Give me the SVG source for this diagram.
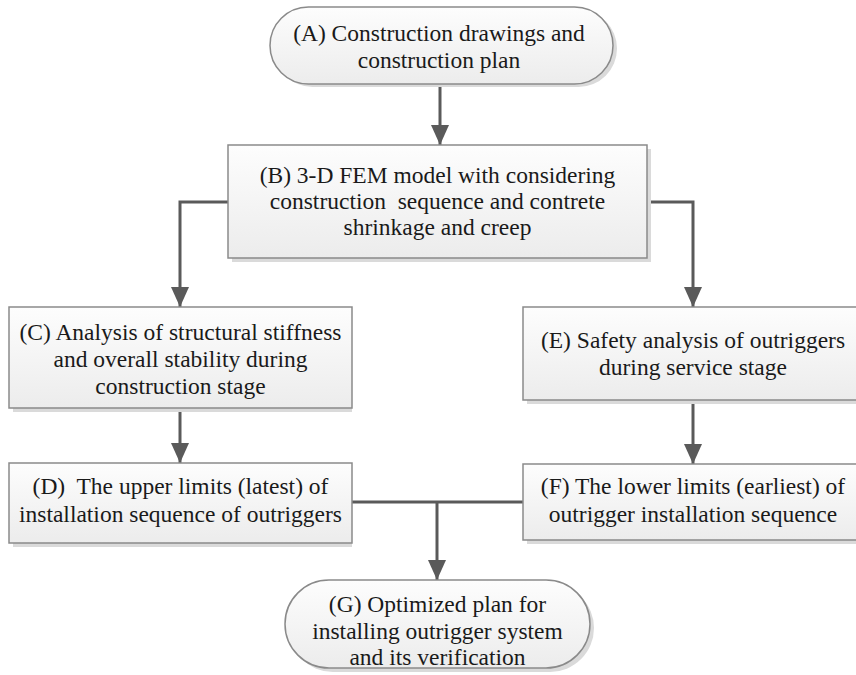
<svg xmlns="http://www.w3.org/2000/svg" width="856" height="675" viewBox="0 0 856 675">
<style>
.box{fill:url(#g);stroke:#8a8a8a;stroke-width:1.5}
.sh{fill:#dadada}
.t{font-family:"Liberation Serif","Times New Roman",serif;font-size:23.5px;fill:#1a1a1a;text-anchor:middle}
.c{fill:none;stroke:#5a5a5a;stroke-width:3}
</style>
<defs>
<linearGradient id="g" x1="0" y1="0" x2="0" y2="1">
<stop offset="0" stop-color="#fdfdfd"/>
<stop offset="1" stop-color="#ececec"/>
</linearGradient>
<marker id="ar" viewBox="0 0 20 18" refX="20" refY="9" markerWidth="20" markerHeight="18" markerUnits="userSpaceOnUse" orient="auto">
<path d="M0,0 L20,9 L0,18 Z" fill="#5a5a5a"/>
</marker>
</defs>
<rect width="856" height="675" fill="#ffffff"/>
<g id="connectors">
<path class="c" d="M440,84 V145" marker-end="url(#ar)"/>
<path class="c" d="M228,202 H180 V307" marker-end="url(#ar)"/>
<path class="c" d="M647,202 H693 V307" marker-end="url(#ar)"/>
<path class="c" d="M180,408 V463" marker-end="url(#ar)"/>
<path class="c" d="M693,400 V464" marker-end="url(#ar)"/>
<path class="c" d="M352,502 H523"/>
<path class="c" d="M437,502 V580" marker-end="url(#ar)"/>
</g>
<g id="A">
<rect class="sh" x="274" y="10" width="343" height="77" rx="38.5"/>
<rect class="box" x="270" y="7" width="343" height="77" rx="38.5"/>
<text class="t" x="439" y="41">(A) Construction drawings and</text>
<text class="t" x="439" y="68">construction plan</text>
</g>
<g id="B">
<rect class="sh" x="232" y="149" width="419" height="113"/>
<rect class="box" x="228" y="145" width="419" height="113"/>
<text class="t" x="437.5" y="183">(B) 3-D FEM model with considering</text>
<text class="t" x="437.5" y="209" xml:space="preserve">construction  sequence and contrete</text>
<text class="t" x="437.5" y="235">shrinkage and creep</text>
</g>
<g id="C">
<rect class="sh" x="13" y="311" width="339" height="101"/>
<rect class="box" x="9" y="307" width="343" height="101"/>
<text class="t" x="180.5" y="340">(C) Analysis of structural stiffness</text>
<text class="t" x="180.5" y="367">and overall stability during</text>
<text class="t" x="180.5" y="394">construction stage</text>
</g>
<g id="E">
<rect class="sh" x="527" y="311" width="340" height="93"/>
<rect class="box" x="523" y="307" width="340" height="93"/>
<text class="t" x="693" y="348">(E) Safety analysis of outriggers</text>
<text class="t" x="693" y="375">during service stage</text>
</g>
<g id="D">
<rect class="sh" x="13" y="467" width="339" height="80"/>
<rect class="box" x="9" y="463" width="343" height="80"/>
<text class="t" x="180.5" y="494" xml:space="preserve">(D)  The upper limits (latest) of</text>
<text class="t" x="180.5" y="522">installation sequence of outriggers</text>
</g>
<g id="F">
<rect class="sh" x="527" y="468" width="340" height="76"/>
<rect class="box" x="523" y="464" width="340" height="76"/>
<text class="t" x="693" y="494">(F) The lower limits (earliest) of</text>
<text class="t" x="693" y="522">outrigger installation sequence</text>
</g>
<g id="G">
<rect class="sh" x="289" y="584" width="305" height="88" rx="44"/>
<rect class="box" x="285" y="580" width="305" height="88" rx="44"/>
<text class="t" x="437.5" y="612">(G) Optimized plan for</text>
<text class="t" x="437.5" y="639">installing outrigger system</text>
<text class="t" x="437.5" y="665">and its verification</text>
</g>
</svg>
